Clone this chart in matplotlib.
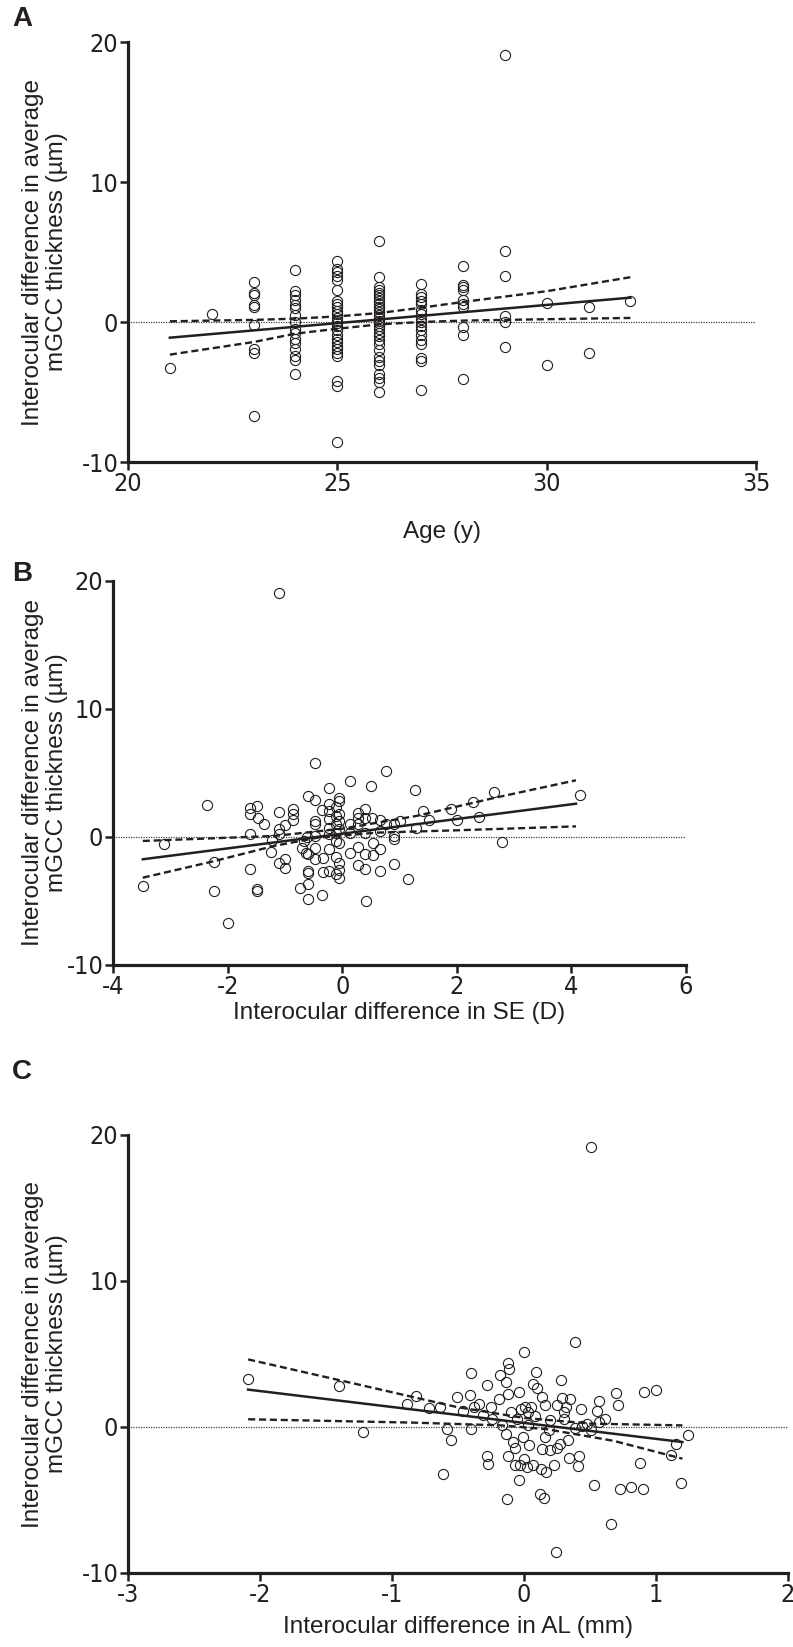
import numpy as np
import matplotlib.pyplot as plt
from matplotlib import font_manager
from matplotlib.font_manager import FontProperties

W, H, DPI = 793, 1647, 100
plt.rcParams['axes.unicode_minus'] = False

# tick labels in the original use a narrow sans; use one if installed
narrow = None
for f in font_manager.fontManager.ttflist:
    if f.name == 'Liberation Sans Narrow' and f.weight in (400, 'normal') and f.style == 'normal':
        narrow = f.fname
        break
if narrow is None:
    for f in font_manager.fontManager.ttflist:
        if f.stretch in ('condensed', 'semi-condensed') and f.style == 'normal' and f.weight in (400, 'normal'):
            narrow = f.fname
            break
if narrow:
    tick_prop = FontProperties(fname=narrow, size=18)
else:
    tick_prop = FontProperties(family='Liberation Sans', size=16.5)
label_font = 'Liberation Sans'

# ---- Panel A: age vs interocular difference ----
age_groups = [21, 22, 23, 24, 25, 26, 27, 28, 29, 30, 31, 32]
mgcc_by_age = [
    [-3.3],
    [0.55],
    [2.85, 2.1, 1.9, 1.25, 1.05, -0.2, -1.95, -2.2, -6.7],
    [3.7, 2.2, 1.9, 1.55, 1.2, 1.0, 0.5, 0.0, -0.5, -0.8, -1.2, -1.5, -1.9, -2.45, -2.7, -3.7],
    [4.35, 3.8, 3.6, 3.3, 3.0, 2.3, 1.5, 1.3, 1.1, 0.8, 0.6, 0.3, 0.1, -0.1, -0.3, -0.6,
     -0.9, -1.2, -1.45, -1.7, -1.95, -2.2, -2.45, -4.2, -4.6, -8.6],
    [5.8, 3.2, 2.5, 2.3, 2.1, 1.9, 1.7, 1.5, 1.3, 1.1, 0.9, 0.7, 0.5, 0.3, 0.1, -0.1, -0.3,
     -0.5, -0.8, -1.0, -1.3, -1.6, -2.0, -2.5, -2.8, -3.1, -3.7, -4.0, -4.3, -5.0],
    [2.75, 2.0, 1.8, 1.5, 1.3, 0.85, 0.6, 0.25, 0.0, -0.25, -0.6, -0.95, -1.3, -1.55, -2.6, -2.8, -4.85],
    [4.0, 2.65, 2.5, 2.3, 1.55, 1.3, 1.07, -0.35, -0.95, -4.1],
    [19.1, 5.1, 3.3, 0.43, 0.0, -1.75],
    [1.35, -3.1],
    [1.1, -2.2],
    [1.5],
]
a_fit_x = [21, 32]
a_fit_y = [-1.12, 1.74]
a_ci_x = [21, 23, 24, 25, 26, 27, 28, 30, 32]
a_ci_hi = [0.05, 0.15, 0.24, 0.4, 0.64, 1.02, 1.43, 2.2, 3.2]
a_ci_lo = [-2.33, -1.43, -0.83, -0.48, -0.17, 0.0, 0.1, 0.2, 0.29]

# ---- Panel B: SE difference ----
se_diff = [-1.11, -0.48, 0.77, 0.14, 0.51, -0.23, 1.27, 2.65, 4.15, -0.59, -0.48, -0.05, 2.28,
           -2.36, -1.61, -1.49, -1.61, -1.47, -1.37, -1.1, -0.86, -0.85, -0.86, -0.99, -1.11,
           -1.1, -1.61, -1.23, -1.25, -0.99, -1.11, -0.99, -1.61, -2.24, -3.11, -3.48, -2.24,
           -1.49, -1.49, -1.99, -0.73, -0.59, -0.59, -0.35, 0.41, 1.15, 0.9, 0.66, 0.39, 0.28,
           -0.05, -0.05, -0.11, -0.23, -0.34, -0.59, -0.59, -0.47, -0.34, -0.23, -0.11, -0.05,
           0.14, 0.28, 0.39, 0.53, 0.66, 0.53, 0.9, 0.9, -0.71, -0.67, -0.61, -0.64, -0.59,
           -0.47, -0.47, -0.47, -0.48, -0.36, -0.23, -0.23, -0.23, -0.23, -0.23, -0.11, -0.11,
           -0.11, -0.11, -0.11, -0.05, -0.05, -0.05, -0.05, -0.05, 0.14, 0.14, 0.28, 0.28, 0.28,
           0.39, 0.39, 0.39, 0.52, 0.66, 0.66, 0.77, 0.9, 1.0, 1.29, 1.41, 1.52, 1.9, 2.01,
           2.39, 2.79]
mgcc_b = [19.1, 5.8, 5.16, 4.38, 4.0, 3.8, 3.7, 3.54, 3.26, 3.18, 2.86, 3.07, 2.73,
          2.5, 2.29, 2.4, 1.77, 1.51, 0.99, 1.95, 2.16, 1.77, 1.3, 0.94, 0.6,
          0.2, 0.2, -0.26, -1.17, -1.74, -2.0, -2.4, -2.47, -1.95, -0.52, -3.83, -4.22,
          -4.09, -4.22, -6.69, -3.96, -3.7, -4.87, -4.53, -5.0, -3.26, -2.08, -2.66, -2.47, -2.21,
          -3.18, -2.6, -2.92, -2.66, -2.71, -2.79, -2.66, -1.74, -1.61, -0.96, -1.56, -2.0,
          -1.28, -0.78, -1.35, -1.41, -0.91, -0.44, -0.18, 0.08, -0.83, -0.31, 0.0, -1.22, -1.3,
          -0.83, 0.08, 0.99, 1.25, 2.08, 2.6, 2.03, 1.38, 0.73, 0.2, 2.34, 1.64,
          0.99, 0.34, -0.31, 2.81, 1.77, 1.25, 0.6, -0.44, 0.99, 0.34, 1.9, 1.51, 1.04,
          2.16, 1.51, 0.34, 1.46, 1.3, 0.47, 0.99, 0.99, 1.25, 0.73, 2.03, 1.3, 2.16, 1.35,
          1.56, -0.36]
b_fit_x = [-3.48, 4.08]
b_fit_y = [-1.74, 2.6]
b_hi_x = [-3.48, -1.19, 0.0, 1.29, 2.67, 4.08]
b_ci_hi = [-0.31, 0.08, 0.65, 1.64, 3.07, 4.43]
b_lo_x = [-3.48, -2.23, -1.19, -0.43, 0.6, 1.98, 4.08]
b_ci_lo = [-3.18, -1.88, -0.7, -0.05, 0.34, 0.52, 0.83]

# ---- Panel C: AL difference ----
al_diff = [-2.09, -1.40, -1.22, -0.89, -0.82, -0.72, -0.64, -0.61, -0.58, -0.55, -0.51, -0.46,
           -0.41, -0.40, -0.40, -0.38, -0.34, -0.31, -0.28, -0.28, -0.27, -0.25, -0.24, -0.19,
           -0.18, -0.17, -0.14, -0.14, -0.13, -0.12, -0.12, -0.12, -0.11, -0.10, -0.08, -0.07,
           -0.07, -0.05, -0.04, -0.04, -0.03, -0.02, -0.01, 0.0, 0.0, 0.01, 0.02, 0.03, 0.03,
           0.04, 0.05, 0.07, 0.07, 0.08, 0.09, 0.10, 0.12, 0.13, 0.14, 0.14, 0.15, 0.16, 0.16,
           0.17, 0.19, 0.20, 0.20, 0.23, 0.24, 0.25, 0.25, 0.27, 0.28, 0.29, 0.30, 0.30, 0.32,
           0.33, 0.34, 0.35, 0.39, 0.39, 0.41, 0.42, 0.43, 0.44, 0.48, 0.51, 0.51, 0.53, 0.55,
           0.57, 0.57, 0.61, 0.66, 0.70, 0.71, 0.73, 0.81, 0.88, 0.90, 0.91, 1.0, 1.11, 1.15,
           1.19, 1.24]
mgcc_c = [3.31, 2.79, -0.34, 1.55, 2.12, 1.32, 1.37, -3.22, -0.16, -0.89, 2.05, 1.1,
          2.21, 3.72, -0.11, 1.37, 1.6, 0.8, 2.85, -2.0, -2.51, 1.37, 0.57, 1.89,
          3.58, 0.11, 3.08, -0.46, -4.95, 4.41, 2.28, -2.0, 4.0, 1.03, -1.03, -1.44,
          -2.63, 0.57, 2.4, -3.65, -2.63, 1.26, -0.68, 5.14, -2.17, 1.37, -2.74, 1.03, 0.11,
          -1.26, 1.37, -2.63, 2.92, 0.75, 3.77, 2.69, -4.57, -2.9, 2.05, -1.48, -4.86, 1.53, -0.68,
          -3.08, -0.23, -1.6, 0.46, -2.58, -8.56, -1.44, 1.48, -1.14, 3.24, 2.01, 1.03, 0.57, 1.37,
          -0.91, -2.12, 1.94, 5.82, -0.07, -2.67, -1.99, 1.26, 0.05, 0.23, 19.18, -0.23, -4.0, 1.07,
          1.76, 0.34, 0.57, -6.67, 2.33, 1.48, -4.22, -4.11, -2.44, -4.22, 2.4, 2.51, -1.94, -1.19,
          -3.84, -0.53]
c_fit_x = [-2.09, 1.2]
c_fit_y = [2.56, -1.03]
c_hi_x = [-2.09, -1.4, -0.84, -0.51, 0.0, 0.51, 1.2]
c_ci_hi = [4.63, 3.21, 2.05, 1.37, 0.62, 0.23, 0.11]
c_lo_x = [-2.09, -0.84, -0.17, 0.17, 0.51, 0.68, 1.2]
c_ci_lo = [0.53, 0.3, 0.11, -0.15, -0.68, -0.95, -2.17]

ylabel_text = 'Interocular difference in average\nmGCC thickness (µm)'
INK = '#231f20'

fig = plt.figure(figsize=(W / DPI, H / DPI), dpi=DPI)


def make_axes(left, right, top, bottom):
    return fig.add_axes([left / W, 1 - bottom / H, (right - left) / W, (bottom - top) / H])


def style(ax, xlim, xticks, xlabel, xlabel_top, left, right, top, bottom):
    ax.set_xlim(*xlim)
    ax.set_ylim(-10, 20)
    ax.set_xticks(xticks)
    ax.set_yticks([-10, 0, 10, 20])
    for s in ['top', 'right']:
        ax.spines[s].set_visible(False)
    for s in ['left', 'bottom']:
        ax.spines[s].set_linewidth(2.3)
        ax.spines[s].set_color(INK)
    ax.tick_params(direction='out', length=6, width=1.8, color=INK, pad=1, labelcolor=INK)
    for lab in ax.get_xticklabels() + ax.get_yticklabels():
        lab.set_fontproperties(tick_prop)
    ax.axhline(0, color='#444444', lw=0.9, ls=(0, (1, 1)), zorder=1)
    ax.set_ylabel(ylabel_text, fontsize=17.5, family=label_font, color=INK,
                  multialignment='center', linespacing=1.1)
    ax.yaxis.set_label_coords((68 - left) / (right - left), 0.5)
    ax.set_xlabel(xlabel, fontsize=17.5, family=label_font, color=INK)
    ax.xaxis.set_label_coords(0.5, (bottom - xlabel_top) / (bottom - top))


def scatter(ax, x, y):
    ax.plot(x, y, ls='none', marker='o', ms=7.3, mfc='none', mec=INK, mew=0.8, zorder=3)


def fit_lines(ax, fx, fy, hx, hy, lx, ly):
    ax.plot(fx, fy, color=INK, lw=1.8, zorder=4)
    ax.plot(hx, hy, color=INK, lw=1.7, ls=(0, (3, 1.6)), zorder=4)
    ax.plot(lx, ly, color=INK, lw=1.7, ls=(0, (3, 1.6)), zorder=4)


# Panel A
axA = make_axes(128, 756, 42, 462)
a_x = np.concatenate([[a] * len(v) for a, v in zip(age_groups, mgcc_by_age)])
a_y = np.concatenate(mgcc_by_age)
scatter(axA, a_x, a_y)
fit_lines(axA, a_fit_x, a_fit_y, a_ci_x, a_ci_hi, a_ci_x, a_ci_lo)
style(axA, (20, 35), [20, 25, 30, 35], 'Age (y)', 521, 128, 756, 42, 462)

# Panel B
axB = make_axes(113, 686, 581, 965)
scatter(axB, se_diff, mgcc_b)
fit_lines(axB, b_fit_x, b_fit_y, b_hi_x, b_ci_hi, b_lo_x, b_ci_lo)
style(axB, (-4, 6), [-4, -2, 0, 2, 4, 6], 'Interocular difference in SE (D)', 1002, 113, 686, 581, 965)

# Panel C
axC = make_axes(128, 788, 1135, 1573)
scatter(axC, al_diff, mgcc_c)
fit_lines(axC, c_fit_x, c_fit_y, c_hi_x, c_ci_hi, c_lo_x, c_ci_lo)
style(axC, (-3, 2), [-3, -2, -1, 0, 1, 2], 'Interocular difference in AL (mm)', 1616, 128, 788, 1135, 1573)

for letter, ypix in [('A', 19), ('B', 574), ('C', 1072)]:
    fig.text(22 / W, 1 - ypix / H, letter, fontsize=20, fontweight='bold', family=label_font,
             color=INK, ha='center', va='center')

fig.savefig('out.png', dpi=DPI)
